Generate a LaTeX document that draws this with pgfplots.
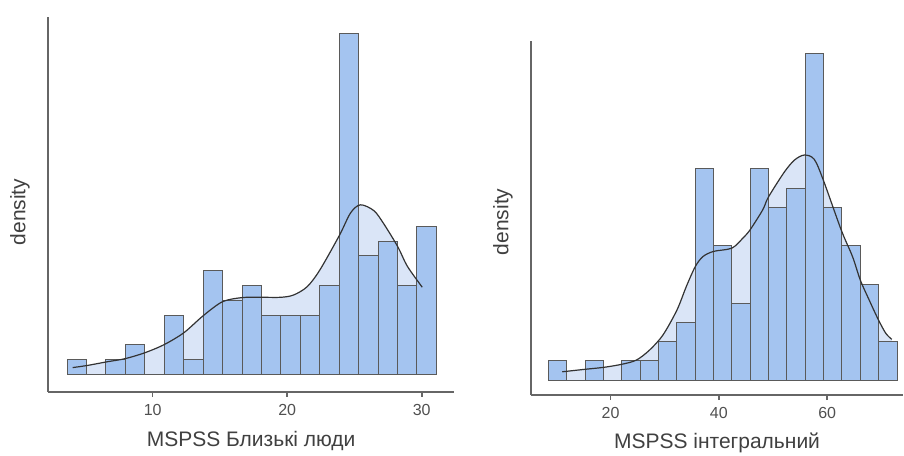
\documentclass[border=0pt]{standalone}
\usepackage{fontspec}
\setmainfont{Liberation Sans}
\usepackage{pgfplots}
\pgfplotsset{compat=1.18}

\definecolor{barfill}{HTML}{A4C4F0}
\definecolor{densfill}{HTML}{DAE5F7}
\definecolor{edge}{HTML}{5A5A5A}
\definecolor{axisgray}{HTML}{666666}
\definecolor{curve}{HTML}{333333}
\definecolor{labeltxt}{HTML}{404040}
\definecolor{ticktxt}{HTML}{505050}

\pgfplotsset{
  histogram/.style={
    scale only axis,
    axis x line=bottom,
    axis y line=left,
    axis line style={-, draw=axisgray, line width=2pt},
    ytick=\empty,
    tick align=outside,
    major tick length=5pt,
    every tick/.style={draw=axisgray, line width=1.6pt},
    /pgf/number format/assume math mode=true,
    xticklabel style={font=\fontsize{16}{16}\selectfont, text=ticktxt,
      yshift=-4pt},
    xlabel style={font=\fontsize{21}{21}\selectfont, text=labeltxt,
      at={(axis description cs:0.5,0)}, anchor=center},
    ylabel style={font=\fontsize{21}{21}\selectfont, text=labeltxt,
      anchor=center},
    clip=false,
  },
  bars/.style={ybar interval, fill=barfill, draw=edge, line width=1pt},
  kdefill/.style={draw=none, fill=densfill, smooth},
  kdeline/.style={draw=curve, line width=1.2pt, smooth, no markers},
}

\begin{document}
\begin{tikzpicture}
% ---------- MSPSS Близькі люди ----------
\begin{axis}[histogram,
  at={(48.3pt,-391.7pt)}, anchor=south west,
  width=405.7pt, height=375pt,
  xmin=2.24, xmax=32.40, ymin=-1.18, ymax=24.16,
  xtick={10,20,30},
  xlabel={MSPSS Близькі люди},
  xlabel style={yshift=-49pt},
  ylabel={density},
  ylabel style={at={(axis description cs:0,0.479)}, yshift=28.3pt},
]
\addplot[kdefill] coordinates {
  (4.05,0.45) (5.12,0.59) (6.60,0.84) (7.94,1.05) (9.41,1.45) (10.85,2.00)
  (12.31,2.80) (13.75,3.95) (15.19,4.90) (16.65,5.18) (18.09,5.20)
  (19.55,5.20) (20.49,5.36) (21.49,5.92) (22.43,7.05) (23.89,9.40)
  (24.71,10.90) (25.45,11.45) (26.45,11.05) (27.19,10.15) (28.23,8.60)
  (28.93,7.30) (30.04,5.88)} \closedcycle;
\addplot[bars] coordinates {
  (3.640,1) (5.084,0) (6.529,1) (7.973,2) (9.418,0) (10.862,4) (12.307,1)
  (13.751,7) (15.196,5) (16.640,6) (18.084,4) (19.529,4) (20.973,4)
  (22.418,6) (23.862,23) (25.307,8) (26.751,9) (28.196,6) (29.640,10)
  (31.084,0)};
\addplot[kdeline] coordinates {
  (4.05,0.45) (5.12,0.59) (6.60,0.84) (7.94,1.05) (9.41,1.45) (10.85,2.00)
  (12.31,2.80) (13.75,3.95) (15.19,4.90) (16.65,5.18) (18.09,5.20)
  (19.55,5.20) (20.49,5.36) (21.49,5.92) (22.43,7.05) (23.89,9.40)
  (24.71,10.90) (25.45,11.45) (26.45,11.05) (27.19,10.15) (28.23,8.60)
  (28.93,7.30) (30.04,5.88)};
\end{axis}

% ---------- MSPSS інтегральний ----------
\begin{axis}[histogram,
  at={(531pt,-395pt)}, anchor=south west,
  width=372pt, height=354pt,
  xmin=5.32, xmax=74.0, ymin=-0.78, ymax=17.66,
  xtick={20,40,60},
  xlabel={MSPSS інтегральний},
  xlabel style={yshift=-48pt},
  ylabel={density},
  ylabel style={at={(axis description cs:0,0.489)}, yshift=28pt},
]
\addplot[kdefill] coordinates {
  (11.09,0.43) (15.33,0.56) (18.71,0.66) (22.08,0.82) (24.78,1.04)
  (27.24,1.57) (29.69,2.35) (32.27,3.65) (33.99,4.87) (35.65,5.91)
  (37.06,6.43) (39.02,6.70) (42.40,6.87) (44.43,7.39) (45.78,7.83)
  (48.11,8.87) (49.15,9.53) (52.08,10.83) (53.97,11.46) (55.78,11.72)
  (57.60,11.50) (59.28,10.42) (62.60,7.81) (64.68,6.43) (66.10,5.22)
  (67.75,4.17) (69.47,3.13) (70.83,2.43) (71.93,2.12)} \closedcycle;
\addplot[bars] coordinates {
  (8.510,1) (11.899,0) (15.288,1) (18.677,0) (22.066,1) (25.454,1)
  (28.843,2) (32.232,3) (35.621,11) (39.010,7) (42.399,4) (45.788,11)
  (49.177,9) (52.566,10) (55.954,17) (59.343,9) (62.732,7) (66.121,5)
  (69.510,2) (72.899,0)};
\addplot[kdeline] coordinates {
  (11.09,0.43) (15.33,0.56) (18.71,0.66) (22.08,0.82) (24.78,1.04)
  (27.24,1.57) (29.69,2.35) (32.27,3.65) (33.99,4.87) (35.65,5.91)
  (37.06,6.43) (39.02,6.70) (42.40,6.87) (44.43,7.39) (45.78,7.83)
  (48.11,8.87) (49.15,9.53) (52.08,10.83) (53.97,11.46) (55.78,11.72)
  (57.60,11.50) (59.28,10.42) (62.60,7.81) (64.68,6.43) (66.10,5.22)
  (67.75,4.17) (69.47,3.13) (70.83,2.43) (71.93,2.12)};
\end{axis}

\pgfresetboundingbox
\path[use as bounding box] (0pt,0pt) rectangle (904pt,-455pt);
\end{tikzpicture}
\end{document}
